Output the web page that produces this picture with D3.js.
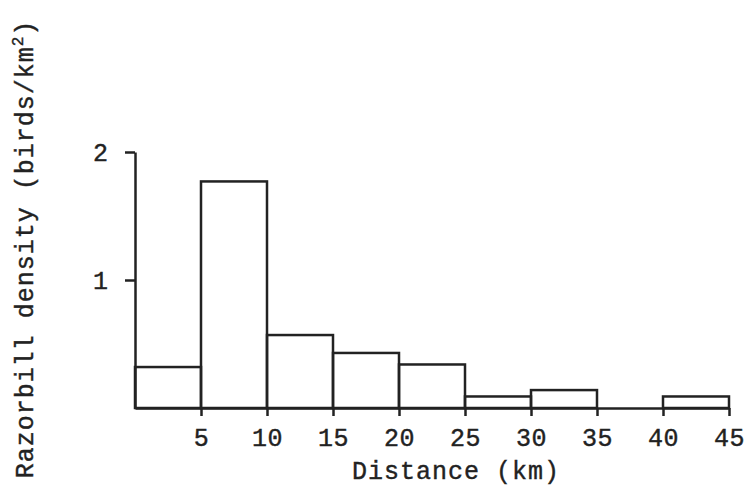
<!DOCTYPE html>
<html>
<head>
<meta charset="utf-8">
<script src="https://cdn.jsdelivr.net/npm/d3@7"></script>
<style>
  body { margin: 0; background: #fff; }
  text { font-family: "Liberation Mono", "DejaVu Sans Mono", monospace; fill: #222; stroke: #222; stroke-width: 0.4; }
  .axis path, .axis line { stroke: #222; stroke-width: 2.5; }
</style>
</head>
<body>
<svg id="chart" width="744" height="489"></svg>
<script>
// distance bins (km) and razorbill density (birds/km2)
const binStarts = [0, 5, 10, 15, 20, 25, 30, 35, 40];
const binWidth = 5;
const density = [0.32, 1.77, 0.57, 0.43, 0.34, 0.09, 0.14, 0, 0.09];
const xTicks = [5, 10, 15, 20, 25, 30, 35, 40, 45];
const yTicks = [1, 2];

const svg = d3.select("#chart");

const xScale = d3.scaleLinear().domain([0, 45]).range([135, 729]);
const yScale = d3.scaleLinear().domain([0, 2]).range([408, 152]);

const bins = binStarts.map((x0, i) => ({ x0: x0, x1: x0 + binWidth, v: density[i] }));

// bars (outlined boxes)
svg.selectAll("rect.bar")
  .data(bins.filter(d => d.v > 0))
  .join("rect")
    .attr("class", "bar")
    .attr("x", d => xScale(d.x0))
    .attr("y", d => yScale(d.v))
    .attr("width", d => xScale(d.x1) - xScale(d.x0))
    .attr("height", d => yScale(0) - yScale(d.v))
    .attr("fill", "none")
    .attr("stroke", "#222")
    .attr("stroke-width", 2.5);

// bottom axis
const bottomAxis = d3.axisBottom(xScale)
  .tickValues(xTicks)
  .tickFormat(d3.format("d"))
  .tickSize(8)
  .tickSizeOuter(0)
  .tickPadding(12);
svg.append("g")
    .attr("class", "axis")
    .attr("font-family", null)
    .attr("transform", `translate(0, ${yScale(0)})`)
    .call(bottomAxis)
  .selectAll("text")
    .attr("font-size", 25)
    .attr("letter-spacing", 0.5);

// left axis
const leftAxis = d3.axisLeft(yScale)
  .tickValues(yTicks)
  .tickFormat(d3.format("d"))
  .tickSize(10)
  .tickSizeOuter(0)
  .tickPadding(17);
svg.append("g")
    .attr("class", "axis")
    .attr("font-family", null)
    .attr("transform", `translate(${xScale(0)}, 0)`)
    .call(leftAxis)
  .selectAll("text")
    .attr("font-size", 25);

// x label
svg.append("text")
  .text("Distance (km)")
  .attr("x", 456)
  .attr("y", 479)
  .attr("text-anchor", "middle")
  .attr("font-size", 25)
  .attr("letter-spacing", 1);

// y label
const yLabel = svg.append("text")
  .attr("transform", "translate(33, 249) rotate(-90)")
  .attr("text-anchor", "middle")
  .attr("font-size", 25)
  .attr("letter-spacing", 1);
yLabel.append("tspan").text("Razorbill density (birds/km");
yLabel.append("tspan").attr("dy", -10).attr("font-size", 16).text("2");
yLabel.append("tspan").attr("dy", 10).text(")");
</script>
</body>
</html>
